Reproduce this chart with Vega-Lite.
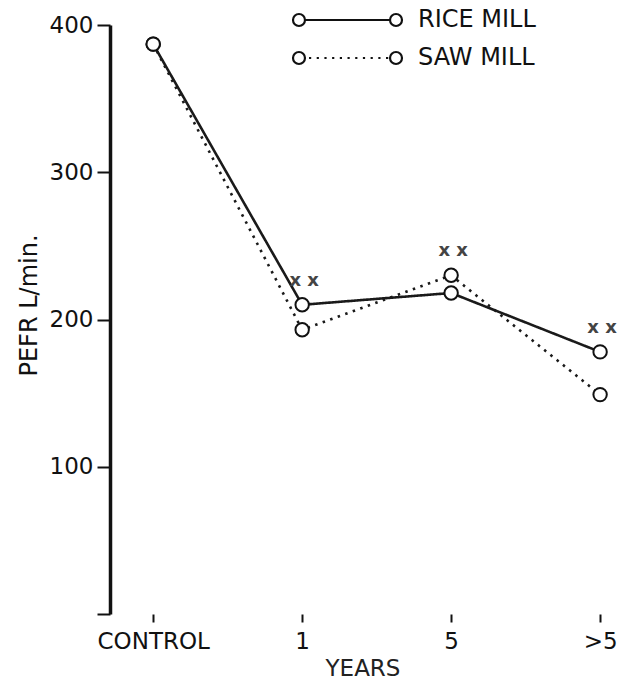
{
  "$schema": "https://vega.github.io/schema/vega-lite/v6.json",
  "width": 505,
  "height": 589,
  "autosize": {"type": "none"},
  "padding": {"left": 110, "top": 25, "right": 14, "bottom": 75},
  "background": "white",
  "config": {"font": "DejaVu Sans", "view": {"stroke": null}},
  "data": {
    "values": [
      {"series": "RICE MILL", "period": "CONTROL", "x": 0, "PEFR": 387},
      {"series": "RICE MILL", "period": "1", "x": 1, "PEFR": 210},
      {"series": "RICE MILL", "period": "5", "x": 2, "PEFR": 218},
      {"series": "RICE MILL", "period": ">5", "x": 3, "PEFR": 178},
      {"series": "SAW MILL", "period": "CONTROL", "x": 0, "PEFR": 387},
      {"series": "SAW MILL", "period": "1", "x": 1, "PEFR": 193},
      {"series": "SAW MILL", "period": "5", "x": 2, "PEFR": 230},
      {"series": "SAW MILL", "period": ">5", "x": 3, "PEFR": 149}
    ]
  },
  "encoding": {
    "x": {
      "field": "x",
      "type": "quantitative",
      "scale": {"domain": [-0.29, 3.1], "nice": false, "zero": false},
      "axis": {
        "values": [0, 1, 2, 3],
        "labelExpr": "['CONTROL','1','5','>5'][datum.value]",
        "domain": false,
        "grid": false,
        "tickSize": 8,
        "tickWidth": 2,
        "tickColor": "#111",
        "labelFontSize": 23,
        "labelColor": "#111",
        "labelPadding": 8,
        "labelFlush": false,
        "title": "YEARS",
        "titleFontSize": 23,
        "titleFontWeight": "normal",
        "titleColor": "#222",
        "titlePadding": 4
      }
    },
    "y": {
      "field": "PEFR",
      "type": "quantitative",
      "scale": {"domain": [0, 400], "nice": false},
      "axis": {
        "values": [0, 100, 200, 300, 400],
        "labelExpr": "datum.value == 0 ? '' : datum.label",
        "grid": false,
        "domainWidth": 3.5,
        "domainColor": "#111",
        "tickSize": 13,
        "tickWidth": 2,
        "tickColor": "#111",
        "labelFontSize": 23,
        "labelColor": "#111",
        "labelPadding": 4,
        "title": "PEFR L/min.",
        "titleFontSize": 24,
        "titleFontWeight": "normal",
        "titleColor": "#111",
        "titlePadding": 8,
        "titleY": 280
      }
    }
  },
  "layer": [
    {
      "data": {"values": [{}]},
      "mark": {"type": "rule", "color": "#111", "strokeWidth": 2.5},
      "encoding": {
        "x": {"datum": 0, "type": "quantitative"},
        "x2": {"datum": 3},
        "y": {"datum": 0, "type": "quantitative"}
      }
    },
    {
      "mark": {"type": "line", "color": "#1a1a1a", "strokeWidth": 2.6},
      "encoding": {
        "detail": {"field": "series"},
        "strokeDash": {
          "condition": {"test": "datum.series == 'SAW MILL'", "value": [2.5, 5.5]},
          "value": [1, 0]
        }
      }
    },
    {
      "mark": {"type": "point", "shape": "circle", "size": 180, "filled": true, "fill": "white", "stroke": "#111", "strokeWidth": 2, "opacity": 1}
    },
    {
      "transform": [
        {"filter": "datum.x > 0"},
        {"aggregate": [{"op": "max", "field": "PEFR", "as": "PEFR"}], "groupby": ["x"]}
      ],
      "mark": {"type": "text", "text": "x x", "dy": -24, "dx": 2, "fontSize": 18, "fontWeight": "bold", "color": "#444"}
    },
    {
      "mark": {"type": "point", "opacity": 0, "filled": false},
      "encoding": {
        "shape": {
          "field": "series",
          "type": "nominal",
          "scale": {
            "domain": ["RICE MILL", "SAW MILL"],
            "range": [
              "M-0.773,0L0.773,0M0.991,0A0.109,0.109,0,1,1,0.773,0A0.109,0.109,0,1,1,0.991,0M-0.773,0A0.109,0.109,0,1,1,-0.991,0A0.109,0.109,0,1,1,-0.773,0",
              "M-0.70,0h0.04M-0.56,0h0.04M-0.42,0h0.04M-0.28,0h0.04M-0.14,0h0.04M0,0h0.04M0.14,0h0.04M0.28,0h0.04M0.42,0h0.04M0.56,0h0.04M0.70,0h0.04M0.991,0A0.109,0.109,0,1,1,0.773,0A0.109,0.109,0,1,1,0.991,0M-0.773,0A0.109,0.109,0,1,1,-0.991,0A0.109,0.109,0,1,1,-0.773,0"
            ]
          },
          "legend": {
            "title": null,
            "orient": "none",
            "legendX": 181,
            "legendY": -15,
            "padding": 0,
            "clipHeight": 20,
            "symbolSize": 12100,
            "symbolStrokeColor": "#111",
            "symbolStrokeWidth": 2.2,
            "symbolFillColor": "white",
            "symbolOpacity": 1,
            "labelFontSize": 24,
            "labelColor": "#111",
            "labelOffset": 14,
            "rowPadding": 14
          }
        }
      }
    }
  ]
}
